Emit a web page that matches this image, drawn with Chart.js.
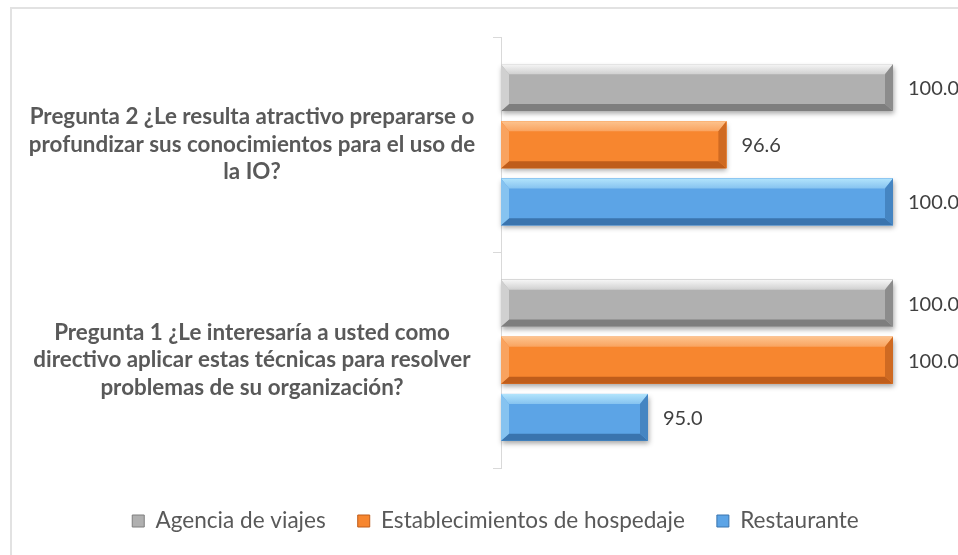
<!DOCTYPE html>
<html><head><meta charset="utf-8">
<script src="https://cdn.jsdelivr.net/npm/chart.js@4"></script>
<style>
html,body{margin:0;padding:0;background:#fff;overflow:hidden}
#wrap{position:relative;width:958px;height:555px}
#frame{position:absolute;left:10px;top:7px;width:1200px;height:800px;border-left:2px solid #e2e2e2;border-top:2px solid #e2e2e2;pointer-events:none}
canvas{position:absolute;left:0;top:0}
</style></head><body>
<div id="wrap"><canvas id="c" width="958" height="555"></canvas><div id="frame"></div></div>
<script>
const categories = [
  ["Pregunta 2 ¿Le resulta atractivo prepararse o", "profundizar sus conocimientos para el uso de", "la IO?"],
  ["Pregunta 1 ¿Le interesaría a usted como", "directivo aplicar estas técnicas para resolver", "problemas de su organización?"]
];
const seriesNames = ["Agencia de viajes", "Establecimientos de hospedaje", "Restaurante"];
const agencia = [100.0, 100.0];
const hospedaje = [96.6, 100.0];
const restaurante = [100.0, 95.0];
const xMin = 92, xMax = 100;

const palette = [
  {body: '#b0b0b0', light: '#f6f6f6', side: '#d0d0d0', dark: '#7e7e7e', right: '#8c8c8c'},
  {body: '#f7862f', light: '#fdc38e', side: '#f9a35f', dark: '#bf5d1b', right: '#cf6a22'},
  {body: '#5ca4e6', light: '#b2e4fc', side: '#86c3f0', dark: '#3a74ae', right: '#4585c2'}
];

const mctx = document.createElement('canvas').getContext('2d');
function fitSize(text, weight, target) {
  mctx.font = weight + ' 20px Lato';
  return 20 * target / mctx.measureText(text).width;
}
const yLabelSize = fitSize(categories[0][0], 'bold', 445);
const legendSize = fitSize(seriesNames[1], 'normal', 304);
mctx.font = 'bold ' + yLabelSize + 'px Lato';
let widest = 0;
categories.forEach(c => c.forEach(l => { widest = Math.max(widest, mctx.measureText(l).width); }));

const axisLeft = 501, tickLen = 8, labelCenter = 252;
const tickPad = Math.max(0, axisLeft - tickLen - labelCenter - widest / 2);
const areaBottom = 468, legendTextY = 521, legendPad = 32;
const xGap = legendTextY - areaBottom - legendPad - legendSize / 2;
const bottomPad = 555 - (areaBottom + xGap) - (legendSize + legendPad + 10);
const legendLeft = 49, legendRight = 942;

function barBox(el) {
  const p = el.getProps(['x', 'y', 'base', 'height'], true);
  const x0 = Math.min(p.base, p.x), x1 = Math.max(p.base, p.x);
  return {x0, x1, y0: p.y - p.height / 2, y1: p.y + p.height / 2};
}
function poly(ctx, pts, fill) {
  ctx.beginPath();
  ctx.moveTo(pts[0][0], pts[0][1]);
  for (let i = 1; i < pts.length; i++) ctx.lineTo(pts[i][0], pts[i][1]);
  ctx.closePath();
  ctx.fillStyle = fill;
  ctx.fill();
}

const bevelPlugin = {
  id: 'bevel',
  afterLayout(chart) {
    if (chart.legend) { chart.legend.left = legendLeft; chart.legend.right = legendRight; }
  },
  beforeDatasetsDraw(chart) {
    const ctx = chart.ctx;
    ctx.save();
    chart.data.datasets.forEach((ds, di) => {
      chart.getDatasetMeta(di).data.forEach(el => {
        const b = barBox(el);
        ctx.shadowColor = 'rgba(0,0,0,0.35)';
        ctx.shadowBlur = 5;
        ctx.shadowOffsetX = 1;
        ctx.shadowOffsetY = 3;
        ctx.fillStyle = palette[di].body;
        ctx.fillRect(b.x0, b.y0, b.x1 - b.x0, b.y1 - b.y0);
      });
    });
    ctx.restore();
  },
  afterDatasetsDraw(chart) {
    const ctx = chart.ctx;
    ctx.save();
    chart.data.datasets.forEach((ds, di) => {
      const pc = palette[di];
      chart.getDatasetMeta(di).data.forEach((el, i) => {
        const {x0, x1, y0, y1} = barBox(el);
        const bt = 10, bb = 7, bs = 8;
        ctx.fillStyle = pc.body;
        ctx.fillRect(x0, y0, x1 - x0, y1 - y0);
        const gt = ctx.createLinearGradient(0, y0, 0, y0 + bt);
        gt.addColorStop(0, pc.light);
        gt.addColorStop(1, pc.side);
        poly(ctx, [[x0, y0], [x1, y0], [x1 - bs, y0 + bt], [x0 + bs, y0 + bt]], gt);
        poly(ctx, [[x0, y1], [x1, y1], [x1 - bs, y1 - bb], [x0 + bs, y1 - bb]], pc.dark);
        poly(ctx, [[x0, y0], [x0 + bs, y0 + bt], [x0 + bs, y1 - bb], [x0, y1]], pc.side);
        poly(ctx, [[x1, y0], [x1 - bs, y0 + bt], [x1 - bs, y1 - bb], [x1, y1]], pc.right);
        ctx.fillStyle = '#404040';
        ctx.font = '20px Lato';
        ctx.textAlign = 'left';
        ctx.textBaseline = 'middle';
        ctx.fillText(ds.data[i].toFixed(1), x1 + 15, (y0 + y1) / 2 + 1);
      });
    });
    ctx.restore();
  }
};

const seriesData = [agencia, hospedaje, restaurante];
new Chart(document.getElementById('c'), {
  type: 'bar',
  data: {
    labels: categories,
    datasets: seriesNames.map((n, i) => ({
      label: n,
      data: seriesData[i],
      base: xMin,
      backgroundColor: palette[i].body,
      borderWidth: 0,
      categoryPercentage: 0.795,
      barPercentage: 0.82
    }))
  },
  options: {
    indexAxis: 'y',
    responsive: false,
    animation: false,
    layout: {padding: {left: 0, right: 65, top: 37, bottom: bottomPad}},
    scales: {
      x: {
        display: true, min: xMin, max: xMax,
        afterFit(s) { s.height = xGap; s.paddingLeft = 0; s.paddingRight = 0; },
        grid: {display: false}, border: {display: false}, ticks: {display: false}
      },
      y: {
        afterFit(s) { s.width = axisLeft; s.paddingTop = 0; s.paddingBottom = 0; },
        border: {display: true, color: '#d9d9d9', width: 1},
        grid: {display: true, drawOnChartArea: false, drawTicks: true, tickLength: tickLen, color: '#d9d9d9', offset: true},
        ticks: {
          crossAlign: 'center',
          padding: tickPad,
          color: '#595959',
          font: {family: 'Lato', size: yLabelSize, weight: 'bold', lineHeight: 27.5 / yLabelSize}
        }
      }
    },
    plugins: {
      tooltip: {enabled: false},
      legend: {
        position: 'bottom',
        labels: {
          color: '#595959',
          font: {family: 'Lato', size: legendSize},
          boxWidth: 12,
          boxHeight: 12,
          padding: legendPad,
          generateLabels(chart) {
            return chart.data.datasets.map((d, i) => ({
              text: d.label,
              fillStyle: palette[i].body,
              strokeStyle: palette[i].dark,
              lineWidth: 1,
              fontColor: '#595959',
              datasetIndex: i
            }));
          }
        }
      }
    }
  },
  plugins: [bevelPlugin]
});
</script>
</body></html>
